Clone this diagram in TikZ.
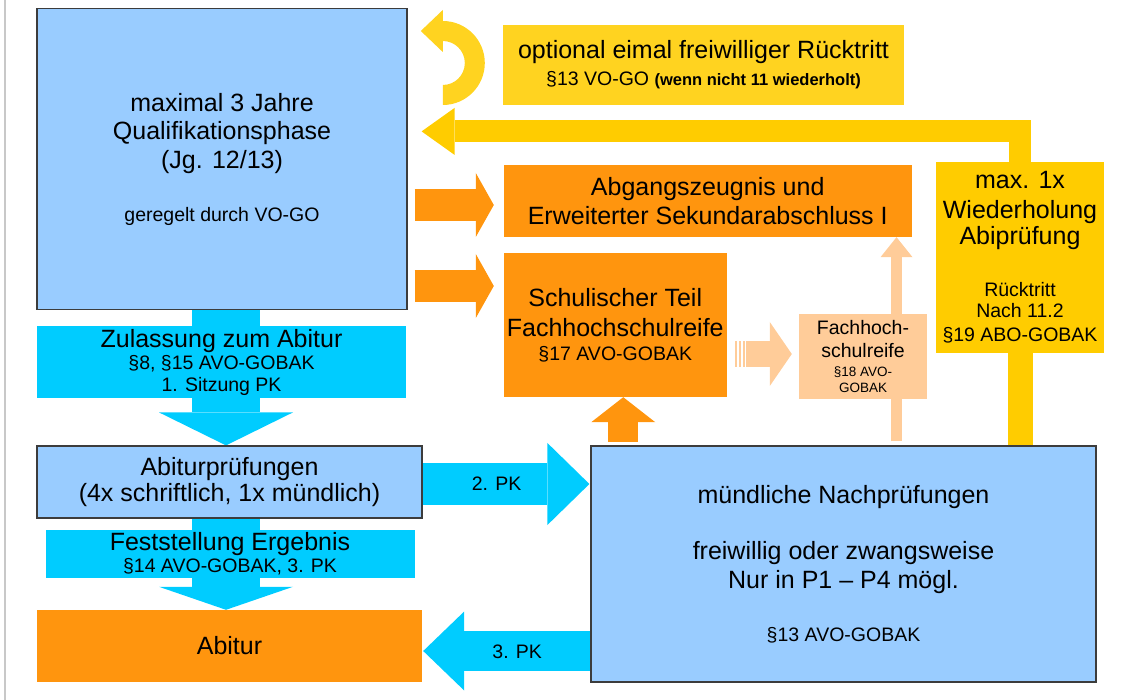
\documentclass[tikz,border=0pt]{standalone}
\usepackage{fontspec}
\setmainfont{Liberation Sans}
\usetikzlibrary{arrows.meta,calc,backgrounds}

\definecolor{qblue}{HTML}{99CCFF}
\definecolor{qcyan}{HTML}{00CCFF}
\definecolor{qorange}{HTML}{FF950E}
\definecolor{qpeach}{HTML}{FFCC99}
\definecolor{qyellow}{HTML}{FFCC00}
\definecolor{qlemon}{HTML}{FFD320}
\definecolor{qframe}{HTML}{3C3C3C}
\definecolor{qgray}{HTML}{C8C8C8}

\newcommand\fbig{\fontsize{25}{28.5}\selectfont}
\newcommand\fmid{\fontsize{19.5}{22.5}\selectfont}
\newcommand\fsml{\fontsize{13.5}{15.5}\selectfont}

\tikzset{
  plate/.style={rectangle, inner sep=0pt, align=center, font=\fbig},
  framed/.style={plate, draw=qframe, line width=1.2pt},
  block/.style n args={3}{line width=#1,
    -{Triangle[width=#2, length=#3, line width=0pt]}},
}

\begin{document}
\begin{tikzpicture}[x=1pt, y=-1pt]
\useasboundingbox (0,0) rectangle (1122,700);
\draw[qgray, line width=1.5pt] (5,0) -- (5,700);

% left column
\node[framed, fill=qblue, minimum width=370, minimum height=301] (qual) at (222,159)
  {maximal 3 Jahre\\Qualifikationsphase\\(Jg. 12/13)\\[24.5pt]\fmid geregelt durch VO-GO};
\node[plate, fill=qcyan, minimum width=369, minimum height=72] (zul) at (221.5,362)
  {Zulassung zum Abitur\\[-6.5pt]\fmid §8, §15 AVO-GOBAK\\[-6.5pt]\fmid 1. Sitzung PK};
\node[framed, fill=qblue, minimum width=385, minimum height=72] (abpr) at (229.5,482)
  {Abiturprüfungen\\[-2.5pt](4x schriftlich, 1x mündlich)};
\node[plate, fill=qcyan, minimum width=369, minimum height=48] (fest) at (230,554)
  {Feststellung Ergebnis\\[-6.5pt]\fmid §14 AVO-GOBAK, 3. PK};
\node[plate, fill=qorange, minimum width=385, minimum height=72] (abitur) at (229.5,646)
  {Abitur};

% right part
\node[plate, fill=qlemon, minimum width=401, minimum height=80] (opt) at (703.5,65)
  {optional eimal freiwilliger Rücktritt\\[-1.5pt]\fmid §13 VO-GO
   {\fontsize{16.5}{19}\selectfont\bfseries (wenn nicht 11 wiederholt)}};
\node[plate, fill=qorange, minimum width=408.5, minimum height=72] (abg) at (707.75,201)
  {Abgangszeugnis und\\Erweiterter Sekundarabschluss I};
\node[plate, fill=qorange, minimum width=223.5, minimum height=144] (schul) at (615.25,325)
  {Schulischer Teil\\[1.5pt]Fachhochschulreife\\[-4.5pt]\fmid §17 AVO-GOBAK};
\node[plate, fill=qpeach, minimum width=128, minimum height=85] (fhr) at (863,356.5)
  {\fmid Fachhoch-\\[-5.5pt]\fmid schulreife\\[-9.5pt]\fsml §18 AVO-\\[-13pt]\fsml GOBAK};
\node[plate, fill=qyellow, minimum width=168, minimum height=191] (maxw) at (1020,257.5)
  {max. 1x\\[1.5pt]Wiederholung\\[-2.5pt]Abiprüfung\\[23.5pt]\fmid Rücktritt\\[-7.5pt]\fmid Nach 11.2\\[-4.5pt]\fmid §19 ABO-GOBAK};
\node[framed, fill=qblue, minimum width=505, minimum height=236] (nach) at (843.5,564)
  {mündliche Nachprüfungen\\[27.5pt]freiwillig oder zwangsweise\\[0.5pt]Nur in P1 – P4 mögl.\\[24.5pt]\fmid §13 AVO-GOBAK};

% block arrows
\begin{scope}[on background layer]
  \draw[qcyan, block={68pt}{134pt}{33pt}] ($(qual.south)+(4,0)$) -- ($(qual.south |- abpr.north)+(4,0)$);
  \draw[qcyan, block={68pt}{134pt}{23pt}] ($(qual.south |- abpr.south)+(4,0)$) -- ($(qual.south |- abitur.north)+(4,0)$);
  \draw[qcyan, block={42pt}{82pt}{42pt}] ($(abpr.east)+(0,2)$) -- ($(nach.west |- abpr.east)+(-1,2)$);
  \draw[qcyan, block={40pt}{79pt}{41pt}] ($(nach.west |- abitur.east)+(0,5)$) -- ($(abitur.east)+(1,5)$);
  \draw[qorange, block={32pt}{64pt}{18pt}] ($(qual.east)+(7,46)$) -- ($(abg.west |- qual.east)+(-9.5,46)$);
  \draw[qorange, block={32pt}{64pt}{18pt}] ($(qual.east)+(7,127)$) -- ($(abg.west |- qual.east)+(-9.5,127)$);
  \draw[qorange, block={30pt}{64pt}{25pt}] ($(schul.south)+(8,45)$) -- ($(schul.south)+(8,0)$);
  \draw[qpeach, block={26.5pt}{64pt}{22pt}] ($(schul.east)+(19,29)$) -- ($(fhr.west)+(-7,-2.5)$);
  \foreach \s in {0,4,8}
    \fill[qpeach] ($(schul.east)+(8+\s,15.75)$) rectangle ++(2.2,26.5);
  \draw[qpeach, block={11pt}{32pt}{20pt}] ($(abg.south |- nach.north)+(188.75,-4)$) -- ($(abg.south)+(188.75,0)$);
  \draw[qyellow, line width=25pt] (maxw.south) -- (maxw.south |- nach.north);
  \draw[qyellow, block={22pt}{47pt}{33pt}] (maxw.north) |- ($(qual.north east)+(14,123.5)$);
\end{scope}

% u-turn
\fill[qlemon] ($(opt.west)+(-60,-44)$) arc[start angle=-90, end angle=90, radius=42]
  -- ++(0,-20) arc[start angle=90, end angle=-90, radius=22]
  -- ++(0,11) -- ++(-22,-21) -- ++(22,-21) -- cycle;

\node[font=\fmid] (pk2) at ($(abpr.east)+(74,2)$) {2. PK};
\node[font=\fmid] (pk3) at ($(abitur.east)+(95,6)$) {3. PK};
\end{tikzpicture}
\end{document}
